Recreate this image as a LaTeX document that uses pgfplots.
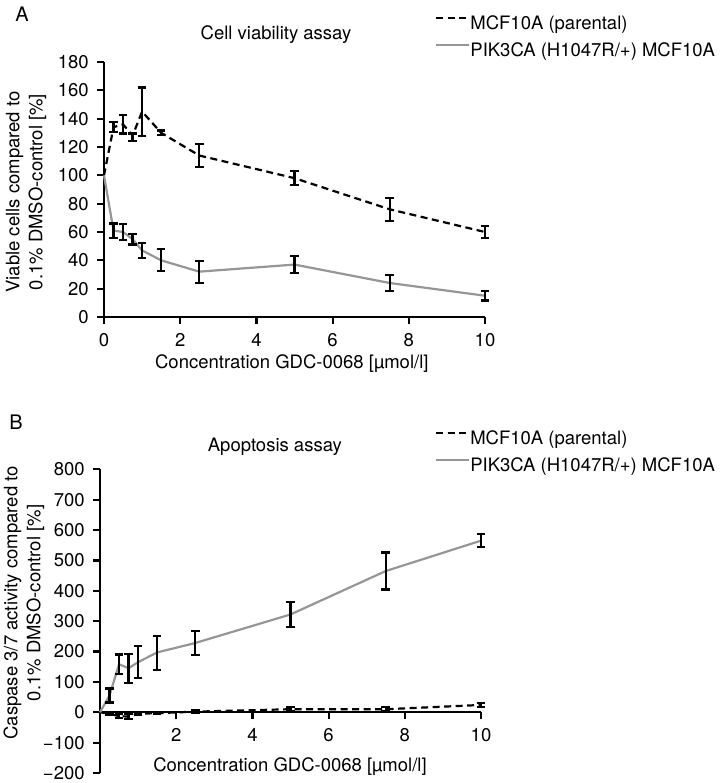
\documentclass[border=0pt]{standalone}
\usepackage{fontspec}
\setmainfont{TeX Gyre Heros}
\usepackage{pgfplots}
\pgfplotsset{compat=1.18}
\definecolor{linegray}{RGB}{150,150,150}
\begin{document}
\fontsize{18.5bp}{23bp}\selectfont
\begin{tikzpicture}
\useasboundingbox (0bp,0bp) rectangle (720bp,783bp);
\pgfplotsset{
 common/.style={
  scale only axis, width=381bp,
  xmin=0,xmax=10,
  font=\fontsize{18.5bp}{23bp}\selectfont,
  axis line style={line width=2.4bp,-},
  every tick/.style={black,line width=2.2bp},
  major tick length=7bp,
  tick align=outside,
  /pgf/number format/assume math mode=true,
  xticklabel style={yshift=-3bp},
  yticklabel style={xshift=-2bp},
  clip=false,
  legend cell align=left,
  legend style={draw=none,fill=none,inner sep=0pt,row sep=9bp,
    nodes={inner sep=0pt,text height=14bp,text depth=4bp}},
  legend image code/.code={\draw[##1] (0bp,6bp) -- (25bp,6bp); \path (0bp,6bp) -- (33bp,6bp);},
 },
 par/.style={black,line width=2.2bp,dash pattern=on 7bp off 4.5bp,mark=none},
 mut/.style={linegray,line width=2.2bp,solid,mark=none},
 eb/.style={forget plot,draw=none,mark=none,
   error bars/.cd,y dir=both,y explicit,
   error bar style={draw=black,line width=2.2bp,solid},
   error mark options={rotate=90,draw=black,mark size=4.3bp,line width=2.2bp,solid}},
}
% ---------------- Panel A ----------------
\begin{axis}[common, at={(104bp,466bp)}, anchor=south west, height=255bp,
  ymin=0,ymax=180, ytick={0,20,...,180}, xtick={0,2,...,10},
  axis x line*=bottom, axis y line*=left,
  title={Cell viability assay},
  title style={at={(axis description cs:0.4514,1.0667)},anchor=base,yshift=0pt},
  xlabel={Concentration GDC-0068 [µmol/l]},
  xlabel style={at={(axis description cs:0.493,-0.188)},anchor=base,yshift=-4bp},
  ylabel={Viable cells compared to\\0.1\% DMSO-control [\%]},
  ylabel style={at={(axis description cs:-0.2047,0.49)},anchor=center,align=center},
  legend style={at={(axis description cs:0.8688,1.1843)},anchor=north west},
]
\addplot[par] table[x=x,y=y] {
x y
0 100
0.25 134
0.5 136
0.75 128
1 145
1.5 130
2.5 114
5 98
7.5 76
10 60
};
\addlegendentry{MCF10A (parental)}
\addplot[mut] table[x=x,y=y] {
x y
0 100
0.25 61
0.5 60
0.75 55
1 47
1.5 40
2.5 32
5 37
7.5 24
10 15
};
\addlegendentry{PIK3CA (H1047R/+) MCF10A}
\addplot[eb] table[x=x,y=y,y error=e] {
x y e
0.25 134 3.5
0.5 136 6.5
0.75 127 2.5
1 145 17
1.5 130 1.7
2.5 114 8.3
5 98 4.8
7.5 76 8
10 60 4.4
};
\addplot[eb] table[x=x,y=y,y error=e] {
x y e
0.25 61 5
0.5 60 5.5
0.75 55 3.8
1 47 5.2
1.5 40 7.8
2.5 32 7.8
5 37 6
7.5 24 5.7
10 15 3.4
};
\end{axis}
% ---------------- Panel B ----------------
\begin{axis}[common, at={(100bp,10bp)}, anchor=south west, height=303.7bp,
  ymin=-200,ymax=800, ytick={-200,-100,...,800},
  yticklabels={−200,−100,0,100,200,300,400,500,600,700,800},
  xtick={2,4,...,10},
  axis x line*=middle, axis y line*=left,
  title={Apoptosis assay},
  title style={at={(axis description cs:0.459,1.0405)},anchor=base,yshift=0pt},
  xlabel={Concentration GDC-0068 [µmol/l]},
  xlabel style={at={(axis description cs:0.4987,0.0165)},anchor=base,yshift=-4bp},
  ylabel={Caspase 3/7 activity compared to\\0.1\% DMSO-control [\%]},
  ylabel style={at={(axis description cs:-0.1995,0.56)},anchor=center,align=center},
  legend style={at={(axis description cs:0.879,1.1294)},anchor=north west},
]
\addplot[par] table[x=x,y=y] {
x y
0 0
0.25 -5
0.5 -13
0.75 -14
1 -5
1.5 -3
2.5 2
5 10
7.5 10
10 24
};
\addlegendentry{MCF10A (parental)}
\addplot[mut] table[x=x,y=y] {
x y
0 0
0.25 55
0.5 158
0.75 145
1 165
1.5 197
2.5 228
5 322
7.5 465
10 565
};
\addlegendentry{PIK3CA (H1047R/+) MCF10A}
\addplot[eb] table[x=x,y=y,y error=e] {
x y e
0.25 -5 3
0.5 -13 6
0.75 -14 8
1 -5 4
1.5 -3 2
2.5 2 5
5 10 7
7.5 10 7
10 24 7
};
\addplot[eb] table[x=x,y=y,y error=e] {
x y e
0.25 55 23
0.5 158 32
0.75 145 48
1 165 53
1.5 195 56
2.5 228 40
5 322 41
7.5 465 61
10 565 21
};
\end{axis}
\node[anchor=base west,font=\fontsize{20bp}{24bp}\selectfont] at (9bp,761bp) {A};
\node[anchor=base west,font=\fontsize{20bp}{24bp}\selectfont] at (3bp,353bp) {B};
\end{tikzpicture}
\end{document}
